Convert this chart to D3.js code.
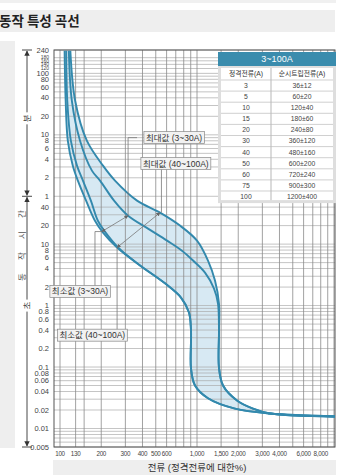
<!DOCTYPE html>
<html><head><meta charset="utf-8">
<script src="https://cdn.jsdelivr.net/npm/d3@7"></script>
<style>
body{margin:0;background:#fff;}
svg{display:block;font-family:"Liberation Sans","Noto Sans CJK KR",sans-serif;}
</style>
</head><body>
<svg id="c" width="340" height="475"></svg>
<script>
// ---------- data ----------
const title = "동작 특성 곡선";
const xTitle = "전류 (정격전류에 대한%)";
const xTickLabels = [100,130,200,300,400,500,600,1000,1500,2000,3000,4000,6000,8000];
const xGridValues = [100,130,150,200,300,400,500,600,700,800,900,1000,1500,2000,3000,4000,5000,6000,7000,8000,9000,10000];
const yMinuteLabels = [240,180,160,140,120,100,80,60,40,20,10,8,6,4,2,1];
const ySecondLabels = [40,20,10,8,6,4,2,1,0.8,0.6,0.4,0.2,0.1,0.08,0.06,0.04,0.02,0.01,0.005];
const yExtraMinuteGrid = [90,70,50,30,9,7,5,3];
const yExtraSecondGrid = [30,9,7,5,3,0.9,0.7,0.5,0.3,0.09,0.07,0.05,0.03,0.009,0.008,0.007,0.006];

// curves: [current % of rating, time in seconds]
const minCurve40to100 = [[108,14000],[110,2154],[114,482],[124,189],[135,108],[155,51],[180,24],[206,15.4],[261,8.8],[384,4.5],[584,2.3],[764,1.35],[874,0.77],[904,0.39],[904,0.095],[967,0.05],[1203,0.031],[1893,0.021],[3410,0.0175],[10170,0.0157]];
const minCurve3to30 = [[111,14000],[113,2154],[120,482],[133,189],[147,108],[168,51],[189,24],[210,16.6],[270,8.5],[384,4.5],[584,2.3],[764,1.35],[874,0.77],[904,0.39],[904,0.095],[967,0.05],[1203,0.031],[1893,0.021],[3410,0.0175],[10170,0.0157]];
const maxCurve3to30 = [[116,14000],[122,2154],[140,482],[171,157],[196,108],[248,51],[314,29],[439,17.9],[604,11.4],[777,7.8],[935,5.4],[1144,3.44],[1331,1.89],[1423,1.08],[1447,0.39],[1447,0.098],[1549,0.05],[1959,0.0285],[2563,0.021],[3410,0.0175],[10170,0.0157]];
const maxCurve40to100 = [[119,14000],[129,2154],[157,482],[206,189],[252,108],[365,51],[537,32.5],[751,20],[1000,11.4],[1203,5.4],[1353,2.55],[1447,1.08],[1447,0.39],[1447,0.098],[1549,0.05],[1959,0.0285],[2563,0.021],[3410,0.0175],[10170,0.0157]];

// table
const tableTitle = "3~100A";
const tableHeaders = ["정격전류(A)","순시트립전류(A)"];
const ratedCurrent = ["3","5","10","15","20","30","40","50","60","75","100"];
const tripCurrent = ["36±12","60±20","120±40","180±60","240±80","360±120","480±160","600±200","720±240","900±300","1200±400"];

// annotations (data units)
const annoLabels = [
  {text:"최대값 (3~30A)", x:680, t:540},
  {text:"최대값 (40~100A)", x:700, t:205},
  {text:"최소값 (3~30A)", x:140, t:1.7},
  {text:"최소값 (40~100A)", x:172, t:0.33}
];

// ---------- layout ----------
const svg = d3.select("#c");
const P = {l:54, r:335, t:50, b:447};
const x = d3.scaleLog().domain([90.4,10170]).range([P.l,P.r]);
const y = d3.scaleLog().domain([0.005,14400]).range([P.b,P.t]);
const teal = "#3389ad";

// title band
svg.append("rect").attr("x",0).attr("y",0).attr("width",336).attr("height",3).attr("fill","#f0f0f0");
svg.append("rect").attr("x",0).attr("y",10).attr("width",335).attr("height",22).attr("fill","#eeeeee");
svg.append("text").attr("x",-1).attr("y",26).attr("font-size",13.5).attr("font-weight","bold")
  .attr("fill","#222").attr("font-family","Noto Sans CJK KR").text(title);

// left strip
svg.append("rect").attr("x",0).attr("y",41).attr("width",15).attr("height",407).attr("fill","#eeeeee");
// bottom band
svg.append("rect").attr("x",53).attr("y",460).attr("width",283).attr("height",15).attr("fill","#eeeeee");

const defs = svg.append("defs");
defs.append("clipPath").attr("id","clip").append("rect")
  .attr("x",P.l).attr("y",P.t).attr("width",P.r-P.l).attr("height",P.b-P.t);
defs.append("marker").attr("id","ah").attr("viewBox","0 0 10 10").attr("refX",9).attr("refY",5)
  .attr("markerWidth",5).attr("markerHeight",5).attr("orient","auto-start-reverse")
  .append("path").attr("d","M0,0L10,5L0,10z").attr("fill","#666");
defs.append("marker").attr("id","ahk").attr("viewBox","0 0 10 10").attr("refX",9).attr("refY",5)
  .attr("markerWidth",6).attr("markerHeight",6).attr("orient","auto-start-reverse")
  .append("path").attr("d","M0,0L10,5L0,10z").attr("fill","#333");

const g = svg.append("g");

// band fill
const pts = arr => arr.map(d=>[x(d[0]), y(d[1])]);
const lineGen = d3.line().curve(d3.curveCatmullRom.alpha(0.5));
const p1 = lineGen(pts(minCurve40to100));
const p4 = lineGen(pts(maxCurve40to100).reverse());
g.append("path").attr("clip-path","url(#clip)")
  .attr("d", p1 + "L" + p4.slice(1) + "Z").attr("fill","#d7e9f3");

// grid
const allMinutes = yMinuteLabels.concat(yExtraMinuteGrid).map(m=>m*60);
const allSeconds = ySecondLabels.concat(yExtraSecondGrid);
g.selectAll("line.h").data(allMinutes.concat(allSeconds)).join("line")
  .attr("x1",P.l).attr("x2",P.r).attr("y1",d=>y(d)).attr("y2",d=>y(d))
  .attr("stroke","#a8a8a8").attr("stroke-width",0.8).attr("opacity",0.85);
g.selectAll("line.v").data(xGridValues).join("line")
  .attr("x1",d=>x(d)).attr("x2",d=>x(d)).attr("y1",P.t).attr("y2",P.b)
  .attr("stroke","#8a8a8a").attr("stroke-width",0.8);

// border
g.append("rect").attr("x",P.l).attr("y",P.t).attr("width",P.r-P.l).attr("height",P.b-P.t)
  .attr("fill","none").attr("stroke","#555").attr("stroke-width",1);

// curves
[minCurve40to100,minCurve3to30,maxCurve3to30,maxCurve40to100].forEach(c=>{
  g.append("path").attr("clip-path","url(#clip)").attr("d",lineGen(pts(c)))
   .attr("fill","none").attr("stroke",teal).attr("stroke-width",1.9);
});

// y labels
const ylab = svg.append("g").attr("fill","#444").attr("text-anchor","end");
yMinuteLabels.forEach(m=>{
  ylab.append("text").attr("x",49).attr("y",y(m*60)).attr("dy","0.35em")
    .attr("font-size", (m>100 && m<240) ? 5 : 7.5).text(m);
});
ySecondLabels.forEach(s=>{
  ylab.append("text").attr("x",49).attr("y",y(s)).attr("dy","0.35em").attr("font-size",7.5).text(s);
});

// x labels
const fmt = d3.format(",");
svg.append("g").attr("font-size",6.3).attr("fill","#444").attr("text-anchor","middle").attr("letter-spacing","-0.3")
  .selectAll("text").data(xTickLabels).join("text")
  .attr("x",d=>x(d)).attr("y",456).text(d=>fmt(d));
svg.append("text").attr("x",197).attr("y",471).attr("text-anchor","middle").attr("font-size",9.5)
  .attr("fill","#333").text(xTitle);

// vertical unit arrows
const ax = 27;
const yMinTop = y(240*60), yMinBot = y(60), yBot = y(0.005);
const va = svg.append("g").attr("stroke","#333").attr("stroke-width",0.9);
va.append("line").attr("x1",ax).attr("x2",ax).attr("y1",yMinTop+1).attr("y2",yMinBot-1)
  .attr("marker-start","url(#ahk)").attr("marker-end","url(#ahk)");
va.append("line").attr("x1",ax).attr("x2",ax).attr("y1",yMinBot+1).attr("y2",yBot-1)
  .attr("marker-start","url(#ahk)").attr("marker-end","url(#ahk)");
[yMinTop,yMinBot,yBot].forEach(v=>va.append("line").attr("x1",ax-5).attr("x2",ax+5).attr("y1",v).attr("y2",v));
function vlabel(txt, cx, cy){
  svg.append("rect").attr("x",cx-5).attr("y",cy-6).attr("width",10).attr("height",12).attr("fill","#fff");
  svg.append("text").attr("transform",`translate(${cx},${cy}) rotate(-90)`).attr("text-anchor","middle")
    .attr("dy","0.35em").attr("font-size",8.5).attr("fill","#444").text(txt);
}
vlabel("분", ax, y(20*60)+2);
vlabel("초", ax, y(1));
const vt = ["동","작","시","간"];
vt.forEach((c,i)=>{
  svg.append("text").attr("transform",`translate(22,${277-i*21}) rotate(-90)`).attr("text-anchor","middle")
   .attr("dy","0.35em").attr("font-size",8.5).attr("fill","#555").text(c);
});

// annotations
const an = svg.append("g");
const lead = an.append("g").attr("stroke","#777").attr("stroke-width",0.8).attr("fill","none");
lead.append("line").attr("x1",x(202)).attr("y1",y(16)).attr("x2",x(314)).attr("y2",y(29))
  .attr("marker-start","url(#ah)").attr("marker-end","url(#ah)");
lead.append("line").attr("x1",x(261)).attr("y1",y(8.8)).attr("x2",x(537)).attr("y2",y(32.5))
  .attr("marker-start","url(#ah)").attr("marker-end","url(#ah)");
lead.append("path").attr("d",`M${x(365)},${y(540)}H${x(314)}V${y(29)}`);
lead.append("path").attr("d",`M${x(550)},${y(205)}V${y(32.5)}`);
lead.append("path").attr("d",`M${x(180)},${y(1.7)}V${y(16)}H${x(202)}`);
lead.append("path").attr("d",`M${x(261)},${y(0.33)}V${y(8.8)}`);

annoLabels.forEach(a=>{
  const t = an.append("text").attr("x",x(a.x)).attr("y",y(a.t)).attr("dy","0.36em")
    .attr("text-anchor","middle").attr("font-size",8.5).attr("fill","#333").text(a.text);
  const bb = t.node().getBBox();
  an.insert("rect","text").attr("x",bb.x-2).attr("y",y(a.t)-6).attr("width",bb.width+4).attr("height",12)
    .attr("fill","#f2f2f2").attr("stroke","#888").attr("stroke-width",0.7);
});

// table
const T = {x0:218, x1:336, y0:52, hh:14, rowH:11.1};
const tb = svg.append("g");
const tBottom = T.y0 + T.hh + 12 + T.rowH*ratedCurrent.length + 3;
tb.append("rect").attr("x",T.x0).attr("y",T.y0).attr("width",T.x1-T.x0).attr("height",tBottom-T.y0).attr("fill","#dedede");
tb.append("rect").attr("x",T.x0).attr("y",T.y0).attr("width",T.x1-T.x0).attr("height",T.hh).attr("fill","#3a8cad");
tb.append("text").attr("x",(T.x0+T.x1)/2).attr("y",T.y0+T.hh/2).attr("dy","0.35em").attr("text-anchor","middle")
  .attr("font-size",9).attr("fill","#fff").text(tableTitle);
const bodyY = T.y0+T.hh+2;
tb.append("rect").attr("x",T.x0+3).attr("y",bodyY).attr("width",T.x1-T.x0-6).attr("height",tBottom-bodyY-3).attr("fill","#fff");
const divX = 271;
const c1 = (T.x0+3+divX)/2, c2 = (divX+T.x1-3)/2;
tb.append("line").attr("x1",divX).attr("x2",divX).attr("y1",bodyY).attr("y2",tBottom-3).attr("stroke","#999").attr("stroke-width",0.7);
tb.append("text").attr("x",c1).attr("y",bodyY+6).attr("dy","0.35em").attr("text-anchor","middle").attr("font-size",6.8).attr("fill","#333").text(tableHeaders[0]);
tb.append("text").attr("x",c2).attr("y",bodyY+6).attr("dy","0.35em").attr("text-anchor","middle").attr("font-size",6.8).attr("fill","#333").text(tableHeaders[1]);
ratedCurrent.forEach((r,i)=>{
  const ry = bodyY + 12 + i*T.rowH;
  tb.append("line").attr("x1",T.x0+3).attr("x2",T.x1-3).attr("y1",ry).attr("y2",ry).attr("stroke","#bbb").attr("stroke-width",0.7);
  tb.append("text").attr("x",c1).attr("y",ry+T.rowH/2).attr("dy","0.35em").attr("text-anchor","middle").attr("font-size",6.8).attr("fill","#444").text(r);
  tb.append("text").attr("x",c2).attr("y",ry+T.rowH/2).attr("dy","0.35em").attr("text-anchor","middle").attr("font-size",6.8).attr("fill","#444").text(tripCurrent[i]);
});
</script>
</body></html>
